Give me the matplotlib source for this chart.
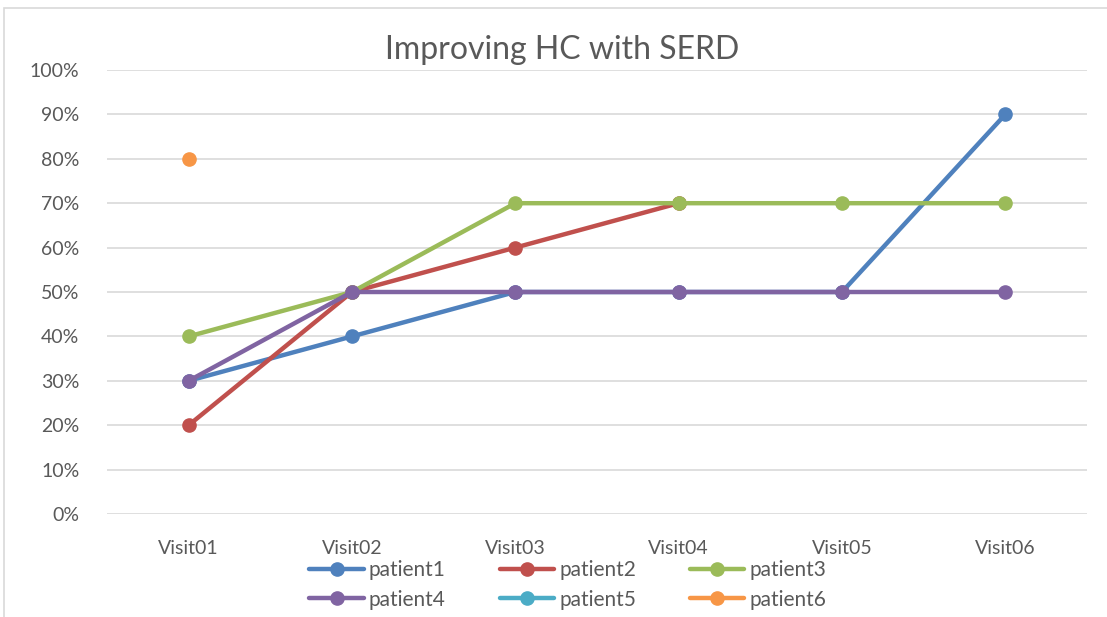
import numpy as np
import matplotlib
matplotlib.use("Agg")
import matplotlib.pyplot as plt
from matplotlib.patches import Rectangle

plt.rcParams['font.family'] = ['Lato', 'DejaVu Sans']

visits = ["Visit01", "Visit02", "Visit03", "Visit04", "Visit05", "Visit06"]
nan = np.nan
patient1 = [30, 40, 50, 50, 50, 90]
patient2 = [20, 50, 60, 70, nan, nan]
patient3 = [40, 50, 70, 70, 70, 70]
patient4 = [30, 50, 50, 50, 50, 50]
patient5 = [nan, nan, nan, nan, nan, nan]
patient6 = [80, nan, nan, nan, nan, nan]

series = [("patient1", patient1, "#4F81BD"),
          ("patient2", patient2, "#C0504D"),
          ("patient3", patient3, "#9BBB59"),
          ("patient4", patient4, "#8064A2"),
          ("patient5", patient5, "#4BACC6"),
          ("patient6", patient6, "#F79646")]

txt = "#595959"
fig = plt.figure(figsize=(11.07, 6.17), dpi=100)
ax = fig.add_axes([107 / 1107, 1 - 514 / 617, 980 / 1107, 444 / 617])

# chart border
fig.patches.append(Rectangle((4 / 1107, -0.1), 1.2, 1 - 8 / 617 + 0.1, transform=fig.transFigure,
                             fill=False, edgecolor="#D9D9D9", linewidth=1.2))

x = np.arange(len(visits))
handles = {}
for name, vals, col in series:
    h, = ax.plot(x, vals, color=col, linewidth=3.2, marker='o', markersize=9.5,
                 label=name, solid_capstyle='round')
    handles[name] = h

ax.set_xlim(-0.5, len(visits) - 0.5)
ax.set_ylim(0, 100)
ax.set_yticks(range(0, 101, 10))
ax.set_yticklabels([f"{v}%" for v in range(0, 101, 10)])
ax.set_xticks(x)
ax.set_xticklabels(visits)
ax.yaxis.grid(True, color="#D9D9D9", linewidth=1.2)
ax.set_axisbelow(True)
for s in ax.spines.values():
    s.set_visible(False)
ax.tick_params(length=0, labelsize=14, colors=txt)
ax.tick_params(axis='y', pad=20)
ax.tick_params(axis='x', pad=19)

fig.text(562 / 1107, 1 - 50 / 617, "Improving HC with SERD", ha='center', va='center',
         fontsize=23, color=txt)

order = ["patient1", "patient4", "patient2", "patient5", "patient3", "patient6"]
fig.legend([handles[n] for n in order], order, ncol=3, loc='center',
           bbox_to_anchor=(568 / 1107, 1 - 585 / 617), frameon=False, fontsize=15,
           labelcolor=txt, handlelength=2.6, handletextpad=0.25, columnspacing=2.6,
           labelspacing=0.45)

fig.savefig("out.png", dpi=100)
